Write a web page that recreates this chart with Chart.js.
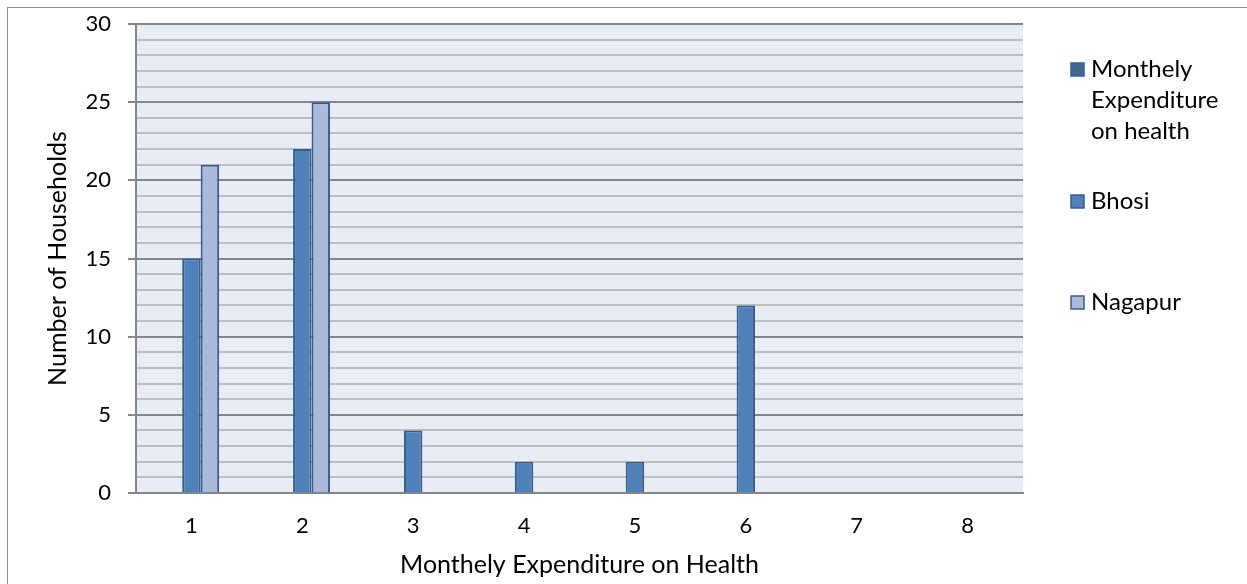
<!DOCTYPE html>
<html>
<head>
<meta charset="utf-8">
<script src="https://cdn.jsdelivr.net/npm/chart.js@4.4.0/dist/chart.umd.min.js"></script>
<style>
  body { margin: 0; background: #fff; }
  #wrap { position: relative; width: 1247px; height: 584px; }
</style>
</head>
<body>
<div id="wrap"><canvas id="bar-chart"></canvas></div>
<script>
// data
const categories = ['1', '2', '3', '4', '5', '6', '7', '8'];
const healthValues = [null, null, null, null, null, null, null, null];
const bhosiValues = [15, 22, 4, 2, 2, 12, null, null];
const nagapurValues = [21, 25, null, null, null, null, null, null];
const yTickLabels = [0, 5, 10, 15, 20, 25, 30];

const fontFamily = 'Lato, "Open Sans", sans-serif';

// plot background + outer frame
const backgroundPlugin = {
    id: 'plotBackground',
    beforeDraw: function (chart) {
        const ctx = chart.ctx;
        const area = chart.chartArea;
        ctx.save();
        ctx.fillStyle = '#E8ECF4';
        ctx.fillRect(area.left, area.top, area.right - area.left, area.bottom - area.top);
        ctx.strokeStyle = '#8f8f8f';
        ctx.lineWidth = 1;
        ctx.strokeRect(7.5, 7.5, 2000, 2000);
        ctx.restore();
    }
};

// legend on the right, Excel style
const legendPlugin = {
    id: 'sideLegend',
    afterDraw: function (chart) {
        const ctx = chart.ctx;
        ctx.save();
        ctx.font = '24px ' + fontFamily;
        ctx.textBaseline = 'middle';
        ctx.fillStyle = '#000';
        chart.data.datasets.forEach(function (ds, i) {
            // wrap label
            var words = ds.label.split(' ');
            var lines = [];
            var line = '';
            words.forEach(function (w) {
                var test = line ? line + ' ' + w : w;
                if (ctx.measureText(test).width > 145 && line) {
                    lines.push(line);
                    line = w;
                } else {
                    line = test;
                }
            });
            lines.push(line);
            var lineH = 31;
            var centerY = 100 + i * 101;
            var firstY = centerY - (lines.length - 1) * lineH / 2;
            ctx.fillStyle = ds.legendColor;
            ctx.fillRect(1071, firstY - 6, 13, 13);
            ctx.strokeStyle = '#385D8A';
            ctx.lineWidth = 1.5;
            ctx.strokeRect(1071, firstY - 6, 13, 13);
            ctx.fillStyle = '#000';
            lines.forEach(function (l, k) {
                ctx.fillText(l, 1091, firstY + k * lineH);
            });
        });
        ctx.restore();
    }
};

const chartData = {
    labels: categories,
    datasets: [{
        label: 'Monthely Expenditure on health',
        data: healthValues,
        backgroundColor: '#3F6798',
        legendColor: '#3F6798',
        borderColor: '#385D8A',
        borderWidth: 2
    }, {
        label: 'Bhosi',
        data: bhosiValues,
        backgroundColor: '#4F81BD',
        legendColor: '#4F81BD',
        borderColor: '#385D8A',
        borderWidth: 2
    }, {
        label: 'Nagapur',
        data: nagapurValues,
        backgroundColor: '#A9BADA',
        legendColor: '#A9BADA',
        borderColor: '#385D8A',
        borderWidth: 2
    }]
};

const barChartElement = document.getElementById('bar-chart');
new Chart(barChartElement, {
    type: 'bar',
    data: chartData,
    plugins: [backgroundPlugin, legendPlugin],
    options: {
        responsive: true,
        maintainAspectRatio: false,
        animation: false,
        layout: { padding: { left: 0, top: 24, right: 224, bottom: 0 } },
        datasets: { bar: { categoryPercentage: 0.5, barPercentage: 1 } },
        plugins: {
            legend: { display: false },
            tooltip: { enabled: false }
        },
        scales: {
            x: {
                grid: { display: true, drawOnChartArea: false, drawTicks: false, color: 'transparent' },
                border: { display: true, color: '#868686', width: 2 },
                ticks: { color: '#000', font: { family: fontFamily, size: 22 }, padding: 20 },
                title: {
                    display: true,
                    text: 'Monthely Expenditure on Health',
                    color: '#000',
                    font: { family: fontFamily, size: 25 },
                    padding: { top: 0, bottom: 4 }
                },
                afterFit: function (scale) {
                    scale.height = 91;
                    scale.paddingLeft = 0;
                    scale.paddingRight = 0;
                }
            },
            y: {
                min: 0,
                max: 30,
                ticks: {
                    stepSize: 1,
                    autoSkip: false,
                    color: '#000',
                    font: { family: fontFamily, size: 22 },
                    padding: 17,
                    callback: function (v) { return yTickLabels.indexOf(v) >= 0 ? String(v) : ''; }
                },
                grid: {
                    color: function (c) { return c.tick && c.tick.value % 5 === 0 ? '#868686' : '#BEBEBE'; },
                    tickColor: function (c) { return c.tick && c.tick.value % 5 === 0 ? '#868686' : 'transparent'; },
                    lineWidth: 2,
                    tickLength: 8
                },
                border: { display: true, color: '#868686', width: 2 },
                title: {
                    display: true,
                    text: 'Number of Households',
                    color: '#000',
                    font: { family: fontFamily, size: 25 },
                    padding: { top: 43, bottom: 0 }
                },
                afterFit: function (scale) {
                    scale.width = 136;
                    scale.paddingTop = 0;
                    scale.paddingBottom = 0;
                }
            }
        }
    }
});
</script>
</body>
</html>
